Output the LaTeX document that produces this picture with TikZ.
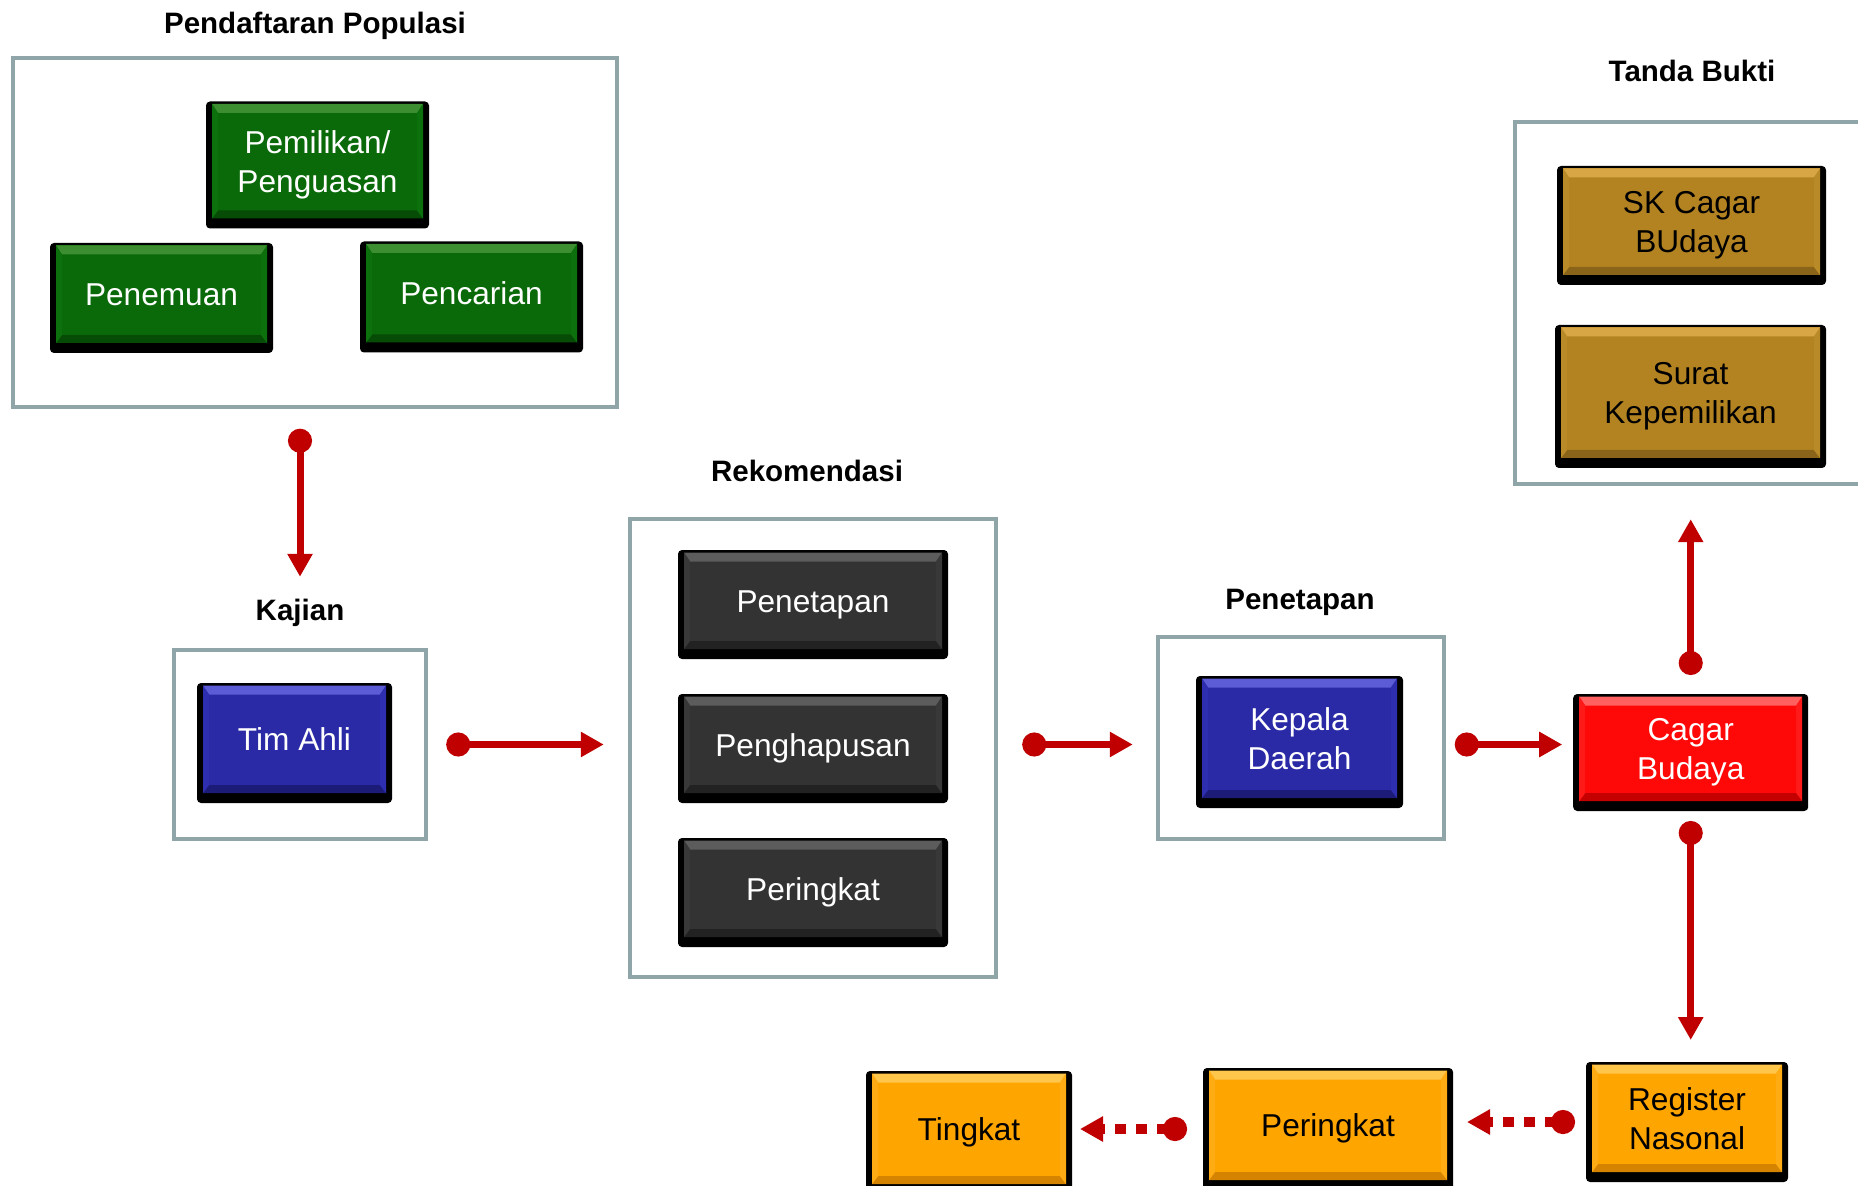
\documentclass[tikz,border=0pt]{standalone}
\usepackage{fontspec}
\setmainfont{Liberation Sans}
\usetikzlibrary{arrows.meta,calc}

% frame and connector colours
\definecolor{frameC}{HTML}{8FA5A8}
\definecolor{arrC}{HTML}{C00000}

% button palettes: face, top bevel, bottom bevel, side bevel
\definecolor{grnF}{HTML}{0A6A0A}\definecolor{grnL}{HTML}{3C8E30}\definecolor{grnD}{HTML}{064C06}\definecolor{grnS}{HTML}{0C700C}
\definecolor{bluF}{HTML}{2A2AA6}\definecolor{bluL}{HTML}{5C5CD6}\definecolor{bluD}{HTML}{1C1C78}\definecolor{bluS}{HTML}{2E2EB0}
\definecolor{drkF}{HTML}{333333}\definecolor{drkL}{HTML}{5C5C5C}\definecolor{drkD}{HTML}{222222}\definecolor{drkS}{HTML}{383838}
\definecolor{redF}{HTML}{FF0808}\definecolor{redL}{HTML}{FF6060}\definecolor{redD}{HTML}{C40000}\definecolor{redS}{HTML}{FF1A1A}
\definecolor{gldF}{HTML}{B38322}\definecolor{gldL}{HTML}{D8A644}\definecolor{gldD}{HTML}{8A6418}\definecolor{gldS}{HTML}{B98A28}
\definecolor{orgF}{HTML}{FFA500}\definecolor{orgL}{HTML}{FFC64C}\definecolor{orgD}{HTML}{D48400}\definecolor{orgS}{HTML}{FFAC14}
\colorlet{btnF}{grnF}\colorlet{btnL}{grnL}\colorlet{btnD}{grnD}\colorlet{btnS}{grnS}

% centred button label with fixed strut spacing
\newcommand{\btxt}[1]{\begin{tabular}{@{}c@{}}#1\end{tabular}}

\tikzset{
  tone/.code={\colorlet{btnF}{#1F}\colorlet{btnL}{#1L}\colorlet{btnD}{#1D}\colorlet{btnS}{#1S}},
  btn/.style={rectangle, rounded corners=0.4mm, fill=black, inner sep=0pt, outer sep=0pt,
    font=\fontsize{9pt}{11pt}\selectfont,
    path picture={
      \coordinate (fsw) at ($(path picture bounding box.south west)+(0.6mm,1.0mm)$);
      \coordinate (fne) at ($(path picture bounding box.north east)+(-0.6mm,-0.25mm)$);
      \coordinate (fnw) at (fsw |- fne);
      \coordinate (fse) at (fne |- fsw);
      \fill[btnF, sharp corners] (fsw) rectangle (fne);
      \fill[btnL, sharp corners] (fnw) -- (fne) -- ($(fne)+(-0.6mm,-0.9mm)$) -- ($(fnw)+(0.6mm,-0.9mm)$) -- cycle;
      \fill[btnD, sharp corners] (fsw) -- (fse) -- ($(fse)+(-0.6mm,0.8mm)$) -- ($(fsw)+(0.6mm,0.8mm)$) -- cycle;
      \fill[btnS, sharp corners] (fsw) -- ($(fsw)+(0.6mm,0.8mm)$) -- ($(fnw)+(0.6mm,-0.9mm)$) -- (fnw) -- cycle;
      \fill[btnS, sharp corners] (fse) -- ($(fse)+(-0.6mm,0.8mm)$) -- ($(fne)+(-0.6mm,-0.9mm)$) -- (fne) -- cycle;
    }},
  grn/.style={btn, tone=grn, text=white},
  blu/.style={btn, tone=blu, text=white},
  drk/.style={btn, tone=drk, text=white},
  rdb/.style={btn, tone=red, text=white},
  gld/.style={btn, tone=gld, text=black},
  org/.style={btn, tone=org, text=black},
  frame/.style={rectangle, draw=frameC, line width=0.45mm, fill=white, inner sep=0pt},
  ttl/.style={font=\fontsize{8.4pt}{11pt}\selectfont\bfseries, anchor=base, inner sep=0pt, text=black},
  conn/.style={draw=arrC, line width=0.7mm,
    arrows={Circle[length=2.4mm]-Triangle[length=2.3mm,width=2.4mm]}},
  dconn/.style={draw=arrC, line width=1mm, dash pattern=on 1.1mm off 1.0mm,
    arrows={Circle[length=2.4mm]-Triangle[length=2.3mm,width=2.4mm]}},
}

\begin{document}
\begin{tikzpicture}[x=0.1mm, y=-0.1mm]
\clip (0,0) rectangle (1858,1186);
\fill[white] (0,0) rectangle (1858,1186);

% ---- group frames ----
\node[frame, minimum width=60.4mm, minimum height=34.9mm] (pend) at (315,232.5) {};
\node[frame, minimum width=25.2mm, minimum height=18.9mm] (kaj) at (300,744.5) {};
\node[frame, minimum width=36.6mm, minimum height=45.8mm] (rek) at (813,748) {};
\node[frame, minimum width=28.6mm, minimum height=20.2mm] (pen) at (1301,738) {};
\node[frame, minimum width=39.0mm, minimum height=36.2mm] (tanda) at (1710,303) {};

% ---- group titles ----
\node[ttl] (tpend) at (315,34) {Pendaftaran Populasi};
\node[ttl] (tkaj) at (300,620) {Kajian};
\node[ttl] (trek) at (807,482) {Rekomendasi};
\node[ttl] (tpen) at (1300,609) {Penetapan};
\node[ttl] (ttanda) at (1692,82) {Tanda Bukti};

% ---- registration ----
\node[grn, minimum width=22.3mm, minimum height=12.7mm] (pemilikan) at (317.5,165) {\btxt{Pemilikan/\\Penguasan}};
\node[grn, minimum width=22.3mm, minimum height=11mm] (penemuan) at (161.5,298) {\btxt{Penemuan}};
\node[grn, minimum width=22.3mm, minimum height=11.1mm] (pencarian) at (471.5,297) {\btxt{Pencarian}};

% ---- study ----
\node[blu, minimum width=19.5mm, minimum height=12mm] (timahli) at (294.5,743) {\btxt{Tim Ahli}};

% ---- recommendation ----
\node[drk, minimum width=27mm, minimum height=10.9mm] (penetapan) at (813,604.5) {\btxt{Penetapan}};
\node[drk, minimum width=27mm, minimum height=10.9mm] (penghapusan) at (813,748.5) {\btxt{Penghapusan}};
\node[drk, minimum width=27mm, minimum height=10.9mm] (peringkat) at (813,892.5) {\btxt{Peringkat}};

% ---- designation ----
\node[blu, minimum width=20.7mm, minimum height=13.2mm] (kepala) at (1299.5,742) {\btxt{Kepala\\Daerah}};
\node[rdb, minimum width=23.5mm, minimum height=11.7mm] (cagar) at (1690.7,752.5) {\btxt{Cagar\\Budaya}};

% ---- proof documents ----
\node[gld, minimum width=26.9mm, minimum height=11.9mm] (sk) at (1691.5,225.5) {\btxt{SK Cagar\\BUdaya}};
\node[gld, minimum width=27.1mm, minimum height=14.3mm] (surat) at (1690.5,396.5) {\btxt{Surat\\Kepemilikan}};

% ---- registers ----
\node[org, minimum width=20.2mm, minimum height=12mm] (register) at (1687,1122) {\btxt{Register\\Nasonal}};
\node[org, minimum width=25mm, minimum height=12.2mm] (peringkatb) at (1328,1129) {\btxt{Peringkat}};
\node[org, minimum width=20.6mm, minimum height=12.3mm] (tingkat) at (969,1132.5) {\btxt{Tingkat}};

% ---- connectors ----
\draw[conn, shorten <=1.95mm, shorten >=7.1mm] (kaj.north |- pend.south) -- (kaj.north);
\draw[conn, shorten <=1.8mm, shorten >=2.4mm] (kaj.east) -- (kaj.east -| rek.west);
\draw[conn, shorten <=2.4mm, shorten >=2.3mm] (kaj.east -| rek.east) -- (kaj.east -| pen.west);
\draw[conn, shorten <=0.85mm, shorten >=1.1mm] (kaj.east -| pen.east) -- (kaj.east -| cagar.west);
\draw[conn, shorten <=1.9mm, shorten >=3.3mm] (cagar.north) -- (cagar.north |- tanda.south);
\draw[conn, shorten <=1.0mm, shorten >=2.2mm] (cagar.south) -- (cagar.south |- register.north);
\draw[dconn, shorten <=1.1mm, shorten >=1.4mm] (register.west) -- (register.west -| peringkatb.east);
\draw[dconn, shorten <=1.6mm, shorten >=0.8mm] (peringkatb.west) -- (peringkatb.west -| tingkat.east);
\end{tikzpicture}
\end{document}
